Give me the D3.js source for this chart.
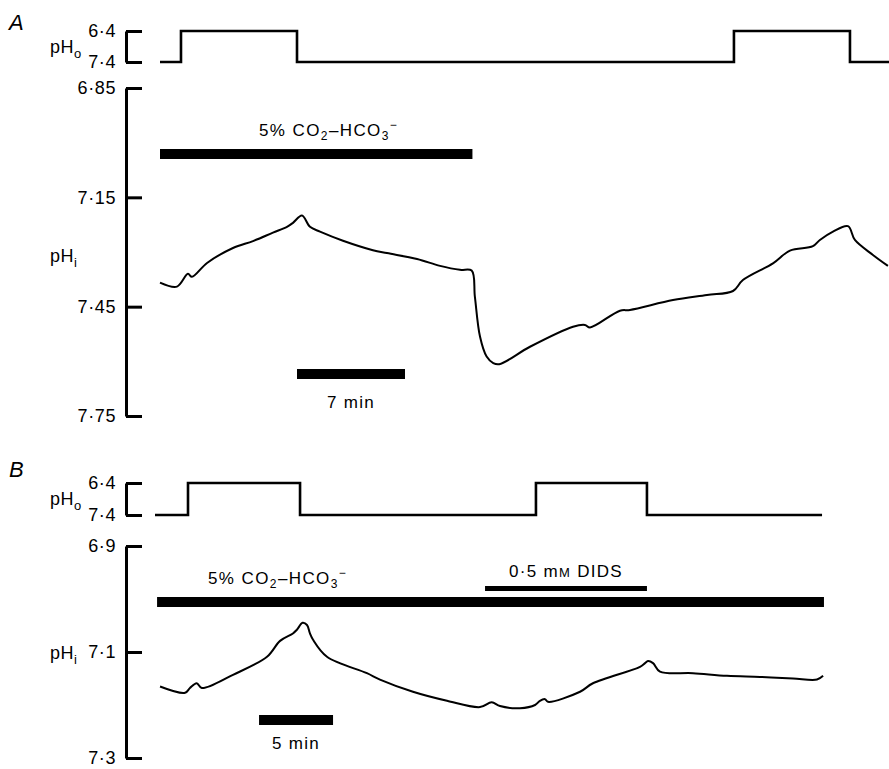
<!DOCTYPE html>
<html><head><meta charset="utf-8">
<script src="https://cdn.jsdelivr.net/npm/d3@7"></script>
<style>
body{margin:0;background:#fff;}
text{font-family:"Liberation Sans",Arial,Helvetica,sans-serif;fill:#000;}
</style></head>
<body><svg id="c" width="889" height="769"></svg>
<script>
// ---- Panel A data (time in min, pH) ----
const phoStepsA = [[0,7.4],[1.36,6.4],[8.88,7.4],[37.2,6.4],[44.72,7.4],[47.25,7.4]];
const phiA_t = [0,1.10,1.81,2.07,3.05,4.73,6.03,7.32,8.23,8.62,9.20,9.72,10.37,11.86,13.80,14.71,16.66,18.15,19.44,20.20,20.41,20.74,21.17,21.60,21.99,23.98,26.77,27.54,27.87,29.81,30.46,33.25,35.45,37.14,37.78,39.73,40.83,42.32,42.77,43.62,44.59,45.04,46.21,47.18];
const phiA_v = [7.384,7.395,7.360,7.368,7.330,7.289,7.270,7.247,7.231,7.220,7.200,7.231,7.244,7.269,7.295,7.303,7.319,7.338,7.349,7.351,7.423,7.532,7.587,7.605,7.608,7.560,7.505,7.500,7.507,7.461,7.459,7.432,7.418,7.407,7.377,7.331,7.296,7.284,7.267,7.244,7.229,7.267,7.308,7.338];
const phiTicksA = [6.85,7.15,7.45,7.75];
const co2BarA = [0,20.25];
const scaleBarA = [8.88,15.88]; // 7 min

// ---- Panel B data ----
const phoStepsB = [[0,7.4],[2.23,6.4],[9.80,7.4],[25.74,6.4],[33.24,7.4],[45.07,7.4]];
const phiB_t = [0.34,2.03,2.36,2.82,3.16,5.27,7.57,8.45,9.32,9.59,9.97,10.27,10.47,10.68,11.62,14.32,15.20,17.43,19.73,21.96,22.75,23.31,24.66,25.68,26.01,26.35,26.55,28.72,29.59,32.77,33.11,33.31,33.65,34.12,36.35,38.65,40.88,43.11,44.73,45.14];
const phiB_v = [7.165,7.177,7.168,7.159,7.168,7.143,7.109,7.079,7.065,7.058,7.045,7.049,7.065,7.077,7.109,7.140,7.152,7.175,7.192,7.204,7.195,7.202,7.206,7.200,7.192,7.189,7.194,7.175,7.159,7.128,7.121,7.117,7.121,7.137,7.140,7.145,7.147,7.150,7.152,7.145];
const phiTicksB = [6.9,7.1,7.3];
const co2BarB = [0.14,45.2];
const didsBarB = [22.3,33.24];
const scaleBarB = [7.03,12.03]; // 5 min
const phoTicks = [6.4,7.4];

const svg = d3.select("#c");
const fmt = d => String(d).replace(".", "\u00B7");

function vAxis(g, scale, ticks, x) {
  const ax = d3.axisLeft(scale).tickValues(ticks).tickSize(-16).tickSizeOuter(0).tickPadding(10).tickFormat(fmt);
  const a = g.append("g").attr("transform", `translate(${x},0)`).call(ax);
  a.attr("font-size", 18).attr("font-family", "Liberation Sans, Arial");
  a.select(".domain").attr("stroke", "#000").attr("stroke-width", 3);
  a.selectAll(".tick line").attr("stroke", "#000").attr("stroke-width", 3);
  a.selectAll(".tick text").style("font-size", "18px").style("letter-spacing", "0.6px").attr("fill", "#000");
  return a;
}

function phLabel(g, x, y, sub) {
  const t = g.append("text").attr("x", x).attr("y", y).style("font-size", "18px").style("letter-spacing", "0.5px");
  t.append("tspan").text("pH");
  t.append("tspan").style("font-size", "13px").attr("dy", 5).text(sub);
}

function co2Label(g, x, y) {
  const t = g.append("text").attr("x", x).attr("y", y).style("font-size", "17px").style("letter-spacing", "1.4px");
  t.append("tspan").text("5% CO");
  t.append("tspan").style("font-size", "12px").attr("dy", 4).text("2");
  t.append("tspan").attr("dy", -4).text("\u2013HCO");
  t.append("tspan").style("font-size", "12px").attr("dy", 4).text("3");
  t.append("tspan").style("font-size", "12px").attr("dy", -11).text("\u2212");
}

function panel(cfg) {
  const g = svg.append("g");
  const x = d3.scaleLinear().domain(cfg.tDomain).range(cfg.xRange);
  const yo = d3.scaleLinear().domain([6.4, 7.4]).range(cfg.yoRange);
  const y = d3.scaleLinear().domain(cfg.phiDomain).range(cfg.yRange);

  g.append("text").attr("x", 9).attr("y", cfg.letterY).style("font-size", "22px").attr("font-style", "italic").text(cfg.letter);

  vAxis(g, yo, phoTicks, 126);
  phLabel(g, 50, (cfg.yoRange[0] + cfg.yoRange[1]) / 2 + 6, "o");
  vAxis(g, y, cfg.phiTicks, 126);
  phLabel(g, 50, cfg.phiLabelY, "i");

  g.append("path").datum(cfg.phoSteps)
    .attr("d", d3.line().x(d => x(d[0])).y(d => yo(d[1])).curve(d3.curveStepAfter))
    .attr("fill", "none").attr("stroke", "#000").attr("stroke-width", 2.6);

  const pts = cfg.phiT.map((t, i) => [t, cfg.phiV[i]]);
  g.append("path").datum(pts)
    .attr("d", d3.line().x(d => x(d[0])).y(d => y(d[1])).curve(d3.curveCatmullRom.alpha(0.5)))
    .attr("fill", "none").attr("stroke", "#000").attr("stroke-width", 2);

  return {g, x};
}

// Panel A
const A = panel({letter: "A", letterY: 30, tDomain: [0, 47.25], xRange: [160, 889], yoRange: [31, 62],
  phiDomain: [6.85, 7.75], yRange: [88, 416], phiTicks: phiTicksA, phiLabelY: 262,
  phoSteps: phoStepsA, phiT: phiA_t, phiV: phiA_v});
A.g.append("rect").attr("x", A.x(co2BarA[0])).attr("width", A.x(co2BarA[1]) - A.x(co2BarA[0])).attr("y", 149).attr("height", 10);
co2Label(A.g, 259, 136);
A.g.append("rect").attr("x", A.x(scaleBarA[0])).attr("width", A.x(scaleBarA[1]) - A.x(scaleBarA[0])).attr("y", 369).attr("height", 10);
A.g.append("text").attr("x", (A.x(scaleBarA[0]) + A.x(scaleBarA[1])) / 2).attr("y", 408).attr("text-anchor", "middle").style("font-size", "17px").style("letter-spacing", "1.3px").text("7 min");

// Panel B
const B = panel({letter: "B", letterY: 477, tDomain: [0, 45.5], xRange: [155, 828.4], yoRange: [483, 515],
  phiDomain: [6.9, 7.3], yRange: [546, 758], phiTicks: phiTicksB, phiLabelY: 659,
  phoSteps: phoStepsB, phiT: phiB_t, phiV: phiB_v});
B.g.append("rect").attr("x", B.x(co2BarB[0])).attr("width", B.x(co2BarB[1]) - B.x(co2BarB[0])).attr("y", 597).attr("height", 10);
co2Label(B.g, 208, 584);
B.g.append("rect").attr("x", B.x(didsBarB[0])).attr("width", B.x(didsBarB[1]) - B.x(didsBarB[0])).attr("y", 586).attr("height", 5);
const dt = B.g.append("text").attr("x", (B.x(didsBarB[0]) + B.x(didsBarB[1])) / 2).attr("y", 577).attr("text-anchor", "middle").style("font-size", "17px").style("letter-spacing", "1.3px");
dt.append("tspan").text("0\u00B75 m");
dt.append("tspan").style("font-size", "13px").text("M");
dt.append("tspan").text(" DIDS");
B.g.append("rect").attr("x", B.x(scaleBarB[0])).attr("width", B.x(scaleBarB[1]) - B.x(scaleBarB[0])).attr("y", 715).attr("height", 10);
B.g.append("text").attr("x", (B.x(scaleBarB[0]) + B.x(scaleBarB[1])) / 2).attr("y", 749).attr("text-anchor", "middle").style("font-size", "17px").style("letter-spacing", "1.3px").text("5 min");
</script></body></html>
